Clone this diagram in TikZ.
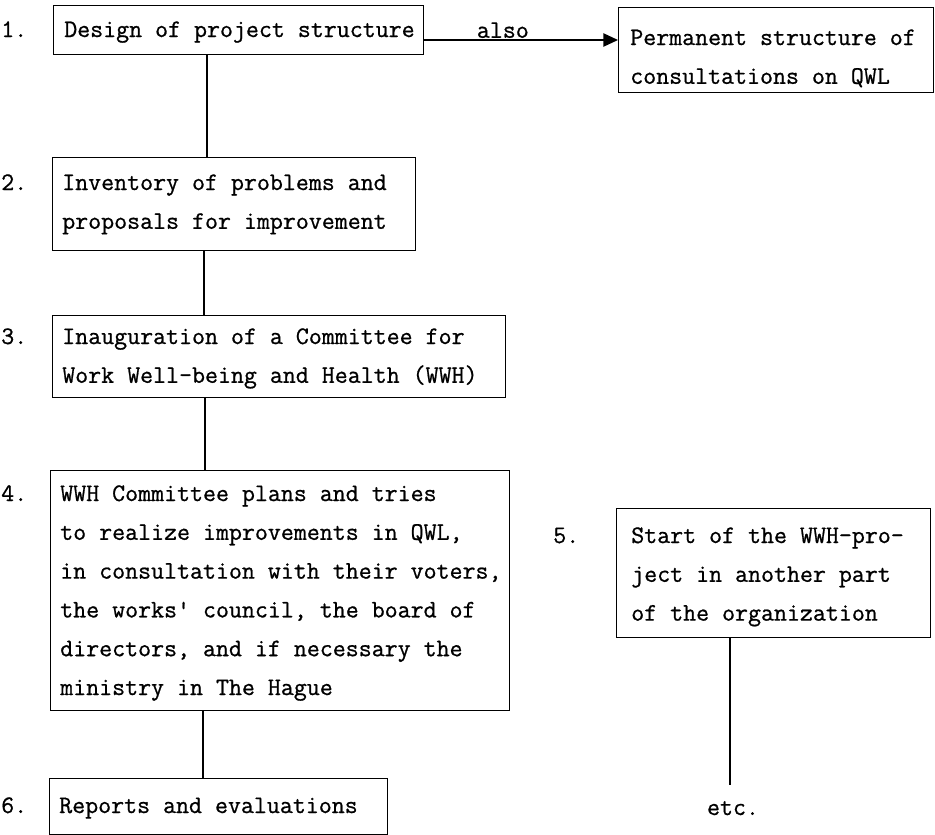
\documentclass[tikz,border=0pt]{standalone}
\usepackage{fontspec}
\setmonofont{Latin Modern Mono}[FakeBold=0.8]
\usetikzlibrary{arrows.meta}
\begin{document}
\begin{tikzpicture}[x=0.75pt,y=-0.75pt,
  txt/.style={font=\ttfamily\fontsize{18.9}{29.1}\selectfont},
  stepbox/.style={draw, line width=1.1pt, inner sep=0pt, anchor=north west},
  body/.style={txt, align=left, inner sep=0pt, anchor=base west},
  num/.style={txt, anchor=base west, inner sep=0pt},
  link/.style={line width=1.1pt}]
\useasboundingbox (0,0) rectangle (935,835);

% frames of the steps
\node[stepbox, minimum width=277.5pt, minimum height=36.75pt]  (b1) at (53,5) {};
\node[stepbox, minimum width=236.25pt, minimum height=63.75pt] (bP) at (618,7) {};
\node[stepbox, minimum width=272.25pt, minimum height=69.75pt] (b2) at (52,157) {};
\node[stepbox, minimum width=339.75pt, minimum height=61.5pt]  (b3) at (52,315) {};
\node[stepbox, minimum width=344.25pt, minimum height=180pt]   (b4) at (50,470) {};
\node[stepbox, minimum width=235.5pt, minimum height=96.75pt]  (b5) at (616,508) {};
\node[stepbox, minimum width=253.5pt, minimum height=42pt]     (b6) at (49,778) {};

% texts of the steps (placed by the baseline of their last line)
\node[body] (t1) at (64,37) {Design of project structure};
\node[body] (tP) at (630,83.8) {Permanent structure of\\consultations on QWL};
\node[body] (t2) at (62,228.8) {Inventory of problems and\\proposals for improvement};
\node[body] (t3) at (62,382.8) {Inauguration of a Committee for\\Work Well-being and Health (WWH)};
\node[body] (t4) at (60,695) {WWH Committee plans and tries\\to realize improvements in QWL,\\in consultation with their voters,\\the works' council, the board of\\directors, and if necessary the\\ministry in The Hague};
\node[body] (t5) at (631,620.6) {Start of the WWH-pro-\\ject in another part\\of the organization};
\node[body] (t6) at (59,813) {Reports and evaluations};

% step numbers
\node[num] (n1) at (1,37) {1.};
\node[num] (n2) at (1,190) {2.};
\node[num] (n3) at (1,344) {3.};
\node[num] (n4) at (1,501) {4.};
\node[num] (n5) at (553,543) {5.};
\node[num] (n6) at (1,813) {6.};
\node[txt, anchor=base, inner sep=0pt] (etc) at (733,815) {etc.};

% vertical links
\coordinate (v1) at (207,0);
\coordinate (v2) at (204,0);
\coordinate (v3) at (205,0);
\coordinate (v4) at (203,0);
\coordinate (e5) at (730,785);
\draw[link] (b1.south -| v1) -- (b2.north -| v1);
\draw[link] (b2.south -| v2) -- (b3.north -| v2);
\draw[link] (b3.south -| v3) -- (b4.north -| v3);
\draw[link] (b4.south -| v4) -- (b6.north -| v4);
\draw[link] (b5.south -| e5) -- (e5);

% side branch
\coordinate (ay) at (0,40);
\draw[link, -{Triangle[length=11pt,width=10pt]}]
  (b1.east |- ay) -- node[pos=0.405, above, txt, inner sep=1pt] (also) {also} (bP.west |- ay);
\end{tikzpicture}
\end{document}
